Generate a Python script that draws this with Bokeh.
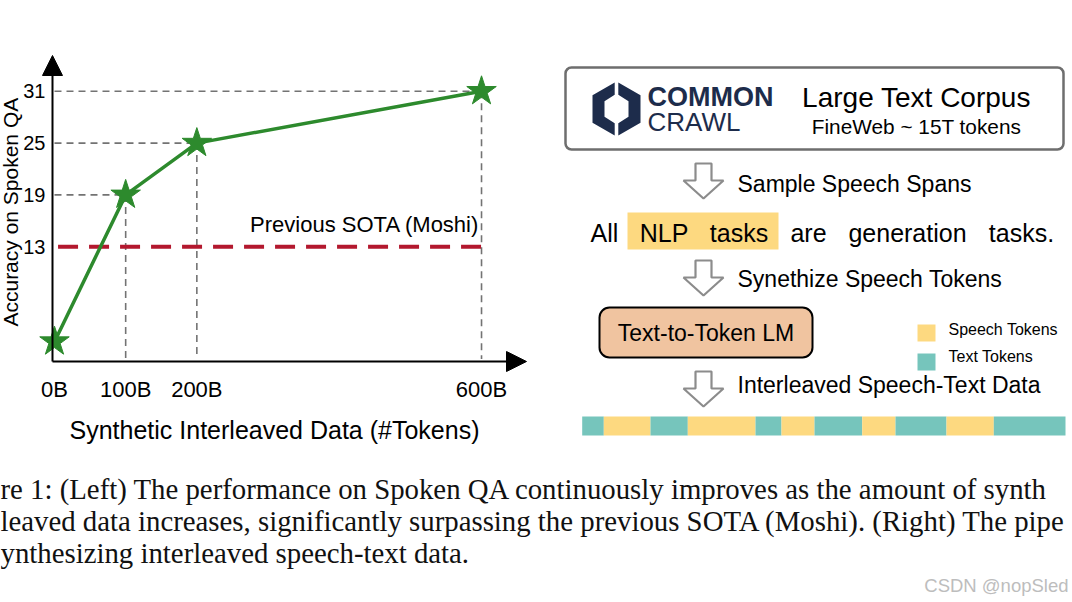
import math
from bokeh.plotting import figure
from bokeh.layouts import column, row
from bokeh.models import Range1d, FixedTicker, Arrow, NormalHead, Label
from bokeh.core.properties import value
from bokeh.embed import file_html
from bokeh.resources import INLINE

# ---------------- data ----------------
tokens_b = [0, 100, 200, 600]
token_labels = ["0B", "100B", "200B", "600B"]
accuracy = [2, 19, 25, 31]
acc_ticks = [13, 19, 25, 31]
moshi_acc = 13
moshi_label = "Previous SOTA (Moshi)"
x_title = "Synthetic Interleaved Data (#Tokens)"
y_title = "Accuracy on Spoken QA"

corpus_title = "Large Text Corpus"
corpus_sub = "FineWeb ~ 15T tokens"
logo_words = ["COMMON", "CRAWL"]
pipeline_steps = ["Sample Speech Spans", "Synethize Speech Tokens", "Interleaved Speech-Text Data"]
sentence_words = ["All", "NLP", "tasks", "are", "generation", "tasks."]
model_name = "Text-to-Token LM"
legend_names = ["Speech Tokens", "Text Tokens"]
segment_kind = ["text", "speech", "text", "speech", "text", "speech",
                "text", "speech", "text", "speech", "text"]
segment_len = [21.6, 46.7, 37.3, 67.7, 26.0, 33.0, 47.7, 33.3, 51.0, 47.3, 71.7]

caption_lines = [
    "re 1: (Left) The performance on Spoken QA continuously improves as the amount of synth",
    "leaved data increases, significantly surpassing the previous SOTA (Moshi). (Right) The pipe",
    "ynthesizing interleaved speech-text data.",
]
watermark = "CSDN @nopSled"

# ---------------- styles ----------------
SANS = "Liberation Sans"
SERIF = "Liberation Serif"
GREEN = "#2d8a2d"
RED = "#b3182e"
GRAY = "#737373"
NAVY = "#1d2c4b"
YELLOW = "#fdd980"
TEAL = "#76c5bc"
PEACH = "#f0c4a0"

TOP_H = 450

# ---------------- left chart (frame fills the whole canvas) ----------------
left = figure(width=548, height=TOP_H,
              x_range=Range1d(-75.87, 694.1), y_range=Range1d(-10.61, 41.52),
              output_backend="svg", toolbar_location=None,
              min_border_left=0, min_border_right=0,
              min_border_top=0, min_border_bottom=0)
left.grid.visible = False
left.outline_line_color = None

xa = left.xaxis[0]
ya = left.yaxis[0]
for ax in (xa, ya):
    ax.axis_line_color = None
    ax.major_tick_line_color = None
    ax.minor_tick_line_color = None
    ax.major_tick_out = 0
    ax.major_tick_in = 0
    ax.major_label_text_font = SANS
    ax.major_label_text_color = "black"

xa.ticker = FixedTicker(ticks=tokens_b)
xa.major_label_overrides = {t: l for t, l in zip(tokens_b, token_labels)}
xa.major_label_text_font_size = "22px"
xa.major_label_standoff = -74
xa.axis_label = x_title
xa.axis_label_text_font = SANS
xa.axis_label_text_font_size = "25px"
xa.axis_label_text_font_style = "normal"
xa.axis_label_text_color = "black"
xa.axis_label_standoff = 11

ya.ticker = FixedTicker(ticks=acc_ticks)
ya.major_label_text_font_size = "20px"
ya.major_label_standoff = -45

# axis lines with arrow heads
ax_x0, ax_y0 = -2.81, -0.30
left.add_layout(Arrow(end=NormalHead(size=20, fill_color="black", line_color="black", line_width=1),
                      x_start=ax_x0, y_start=ax_y0, x_end=ax_x0, y_end=35.15,
                      line_color="black", line_width=2))
left.add_layout(Arrow(end=NormalHead(size=20, fill_color="black", line_color="black", line_width=1),
                      x_start=ax_x0, y_start=ax_y0, x_end=663.2, y_end=ax_y0,
                      line_color="black", line_width=2))

# guide dashes
left.segment(x0=[0] * 3, y0=accuracy[1:], x1=tokens_b[1:], y1=accuracy[1:],
             line_color=GRAY, line_width=1.6, line_dash="7 5")
left.segment(x0=tokens_b[1:], y0=accuracy[1:], x1=tokens_b[1:], y1=[0] * 3,
             line_color=GRAY, line_width=1.6, line_dash="7 5")

# previous SOTA line
left.line(x=[tokens_b[0] + 5, tokens_b[-1]], y=[moshi_acc, moshi_acc],
          line_color=RED, line_width=4, line_dash="20 11")
left.add_layout(Label(x=tokens_b[-1], y=moshi_acc, x_offset=-2, y_offset=22,
                      text=moshi_label, text_align="right", text_baseline="middle",
                      text_font=SANS, text_font_size="22px", text_color="black"))

# main curve
left.line(x=tokens_b, y=accuracy, line_color=GREEN, line_width=3.5)
left.scatter(x=tokens_b, y=accuracy, marker="star", size=31,
             fill_color=GREEN, line_color=GREEN)

# y title, kept just inside the left edge
left.text(x=[-61.5], y=[17.0], text=[y_title], angle=math.pi / 2,
          text_align="center", text_baseline="middle",
          text_font=value(SANS), text_font_size="21px", text_color="black")

# ---------------- right pipeline ----------------
right = figure(width=524, height=TOP_H,
               x_range=Range1d(548, 1072), y_range=Range1d(TOP_H, 0),
               output_backend="svg", toolbar_location=None, min_border=0)
right.axis.visible = False
right.grid.visible = False
right.outline_line_color = None

# corpus box
right.quad(left=565, right=1063, top=67, bottom=149, fill_color="white",
           line_color="#6e6e6e", line_width=2.5, border_radius=6)


def hex_half(cx, cy, W, H, w, h, g, side):
    s = -1 if side == "left" else 1
    xg = cx + s * g
    oy_t = cy - H + (H / 2) * (g / W)
    oy_b = cy + H - (H / 2) * (g / W)
    iy_t = cy - h + (h / 2) * (g / w)
    iy_b = cy + h - (h / 2) * (g / w)
    xs = [xg, cx + s * W, cx + s * W, xg, xg, cx + s * w, cx + s * w, xg]
    ys = [oy_t, cy - H / 2, cy + H / 2, oy_b, iy_b, cy + h / 2, cy - h / 2, iy_t]
    return xs, ys


hl = hex_half(616, 108.5, 24, 27.5, 12, 15.5, 1.8, "left")
hr = hex_half(616, 108.5, 24, 27.5, 12, 15.5, 1.8, "right")
right.patches(xs=[hl[0], hr[0]], ys=[hl[1], hr[1]], fill_color=NAVY, line_color=None)

right.text(x=[647], y=[96], text=[logo_words[0]], text_font=value(SANS),
           text_font_style="bold", text_font_size="27px", text_color=NAVY,
           text_baseline="middle", text_align="left")
right.text(x=[647], y=[121], text=[logo_words[1]], text_font=value(SANS),
           text_font_size="26px", text_color=NAVY,
           text_baseline="middle", text_align="left")
right.text(x=[916], y=[97], text=[corpus_title], text_font=value(SANS),
           text_font_size="28px", text_color="black",
           text_baseline="middle", text_align="center")
right.text(x=[916], y=[126], text=[corpus_sub], text_font=value(SANS),
           text_font_size="20.8px", text_color="black",
           text_baseline="middle", text_align="center")

# hollow down arrows
arrow_cx = 703
arrow_tops = [163, 260, 371]
axs, ays = [], []
for t in arrow_tops:
    axs.append([arrow_cx - 8, arrow_cx + 8, arrow_cx + 8, arrow_cx + 20, arrow_cx,
                arrow_cx - 20, arrow_cx - 8])
    ays.append([t, t, t + 17, t + 17, t + 35, t + 17, t + 17])
right.patches(xs=axs, ys=ays, fill_color="white", line_color="#8c8c8c", line_width=2.2)

right.text(x=[737] * 3, y=[183, 278, 384], text=pipeline_steps, text_font=value(SANS),
           text_font_size="23px", text_color="black", text_baseline="middle", text_align="left")

# sentence with highlighted span
right.quad(left=627, right=778, top=212, bottom=249, fill_color=YELLOW, line_color=None)
right.text(x=[604, 663.5, 738.5, 808, 907, 1021], y=[232] * 6, text=sentence_words,
           text_font=value(SANS), text_font_size="25px", text_color="black",
           text_baseline="middle", text_align="center")

# model box
right.quad(left=599, right=812, top=307, bottom=357, fill_color=PEACH,
           line_color="black", line_width=2, border_radius=10)
right.text(x=[705.5], y=[332], text=[model_name], text_font=value(SANS),
           text_font_size="23px", text_color="black", text_baseline="middle", text_align="center")

# legend
right.quad(left=[917, 917], right=[935, 935], top=[324, 353], bottom=[341, 370],
           fill_color=[YELLOW, TEAL], line_color=None)
right.text(x=[948, 948], y=[329, 356], text=legend_names, text_font=value(SANS),
           text_font_size="16px", text_color="black", text_baseline="middle", text_align="left")

# interleaved strip
lefts, rights, cols = [], [], []
pos = 581.7
for kind, ln in zip(segment_kind, segment_len):
    lefts.append(pos)
    rights.append(pos + ln)
    cols.append(TEAL if kind == "text" else YELLOW)
    pos += ln
right.quad(left=lefts, right=rights, top=416, bottom=435, fill_color=cols, line_color=None)

# ---------------- caption ----------------
cap = figure(width=1072, height=602 - TOP_H, x_range=Range1d(0, 1072), y_range=Range1d(602, TOP_H),
             output_backend="svg", toolbar_location=None, min_border=0)
cap.axis.visible = False
cap.grid.visible = False
cap.outline_line_color = None
cap.text(x=[0, 0, 0], y=[488, 520, 552], text=caption_lines, text_font=value(SERIF),
         text_font_size="28.8px", text_color="#111111", text_baseline="middle", text_align="left")
cap.text(x=[1068], y=[585], text=[watermark], text_font=value(SANS),
         text_font_size="18.5px", text_color="#bdbdbd", text_baseline="middle", text_align="right")

page = column(row(left, right, spacing=0), cap, spacing=0)
open("out.html", "w").write(file_html(page, INLINE))
